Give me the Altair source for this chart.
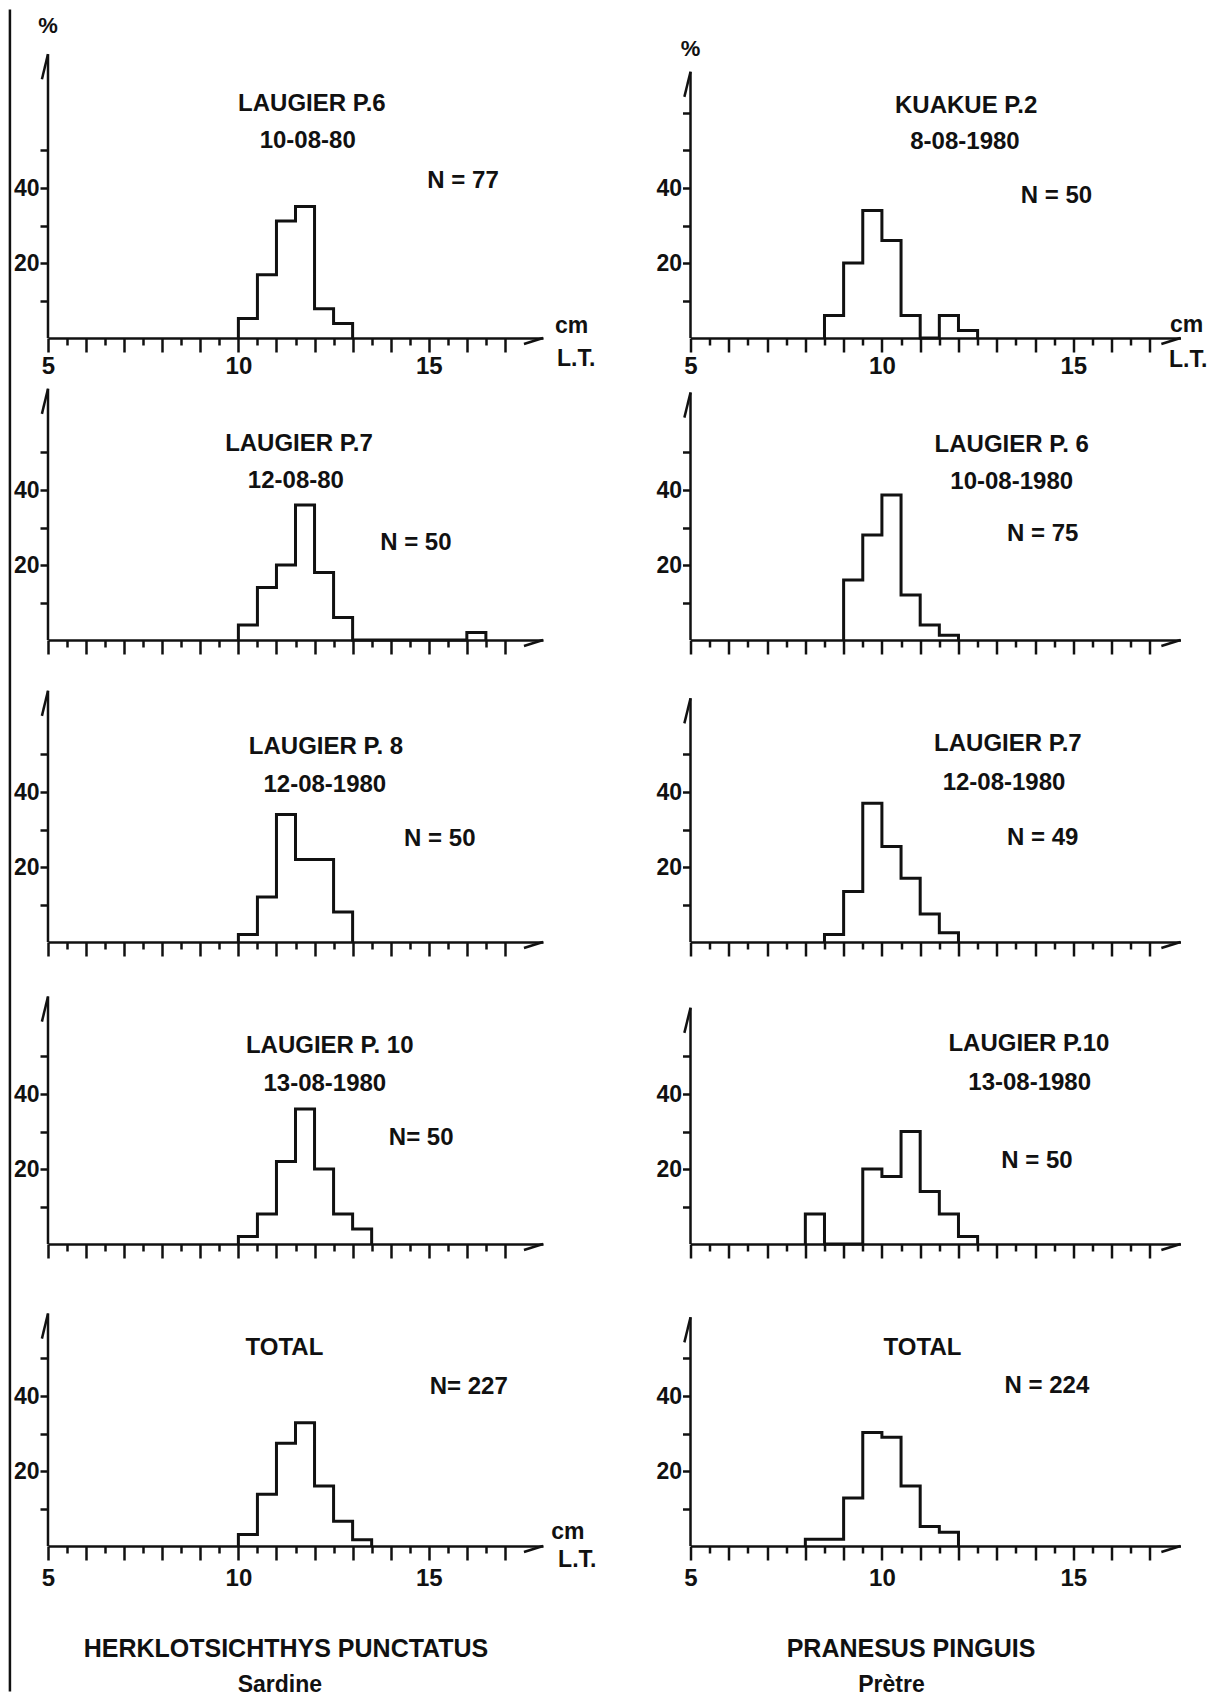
import altair as alt
import pandas as pd

FONT = "Liberation Sans"
INK = "#111111"

# ---------------- data ----------------
# lower edges of the 0.5 cm length classes, and % of fish in each class
L1_bins = [10.0, 10.5, 11.0, 11.5, 12.0, 12.5]
L1_pct = [5.2, 16.9, 31.2, 35.1, 7.8, 3.9]

R1_bins = [8.5, 9.0, 9.5, 10.0, 10.5, 11.0, 11.5, 12.0]
R1_pct = [6, 20, 34, 26, 6, 0, 6, 2]

L2_bins = [10.0, 10.5, 11.0, 11.5, 12.0, 12.5, 13.0, 13.5, 14.0, 14.5, 15.0, 15.5, 16.0]
L2_pct = [4, 14, 20, 36, 18, 6, 0, 0, 0, 0, 0, 0, 2]

R2_bins = [9.0, 9.5, 10.0, 10.5, 11.0, 11.5]
R2_pct = [16, 28, 38.7, 12, 4, 1.3]

L3_bins = [10.0, 10.5, 11.0, 11.5, 12.0, 12.5]
L3_pct = [2, 12, 34, 22, 22, 8]

R3_bins = [8.5, 9.0, 9.5, 10.0, 10.5, 11.0, 11.5]
R3_pct = [2, 13.5, 37, 25.5, 17, 7.5, 2.5]

L4_bins = [10.0, 10.5, 11.0, 11.5, 12.0, 12.5, 13.0]
L4_pct = [2, 8, 22, 36, 20, 8, 4]

R4_bins = [8.0, 8.5, 9.0, 9.5, 10.0, 10.5, 11.0, 11.5, 12.0]
R4_pct = [8, 0, 0, 20, 18, 30, 14, 8, 2]

L5_bins = [10.0, 10.5, 11.0, 11.5, 12.0, 12.5, 13.0]
L5_pct = [3.1, 13.8, 27.4, 32.9, 16, 6.6, 1.7]

R5_bins = [8.0, 8.5, 9.0, 9.5, 10.0, 10.5, 11.0, 11.5]
R5_pct = [1.8, 1.8, 12.8, 30.3, 29, 16, 5.2, 3.7]

CLASS_WIDTH = 0.5

# panel texts
L1_text = ["LAUGIER P.6", "10-08-80", "N = 77"]
R1_text = ["KUAKUE P.2", "8-08-1980", "N = 50"]
L2_text = ["LAUGIER P.7", "12-08-80", "N = 50"]
R2_text = ["LAUGIER P. 6", "10-08-1980", "N = 75"]
L3_text = ["LAUGIER P. 8", "12-08-1980", "N = 50"]
R3_text = ["LAUGIER P.7", "12-08-1980", "N = 49"]
L4_text = ["LAUGIER P. 10", "13-08-1980", "N= 50"]
R4_text = ["LAUGIER P.10", "13-08-1980", "N = 50"]
L5_text = ["TOTAL", "N= 227"]
R5_text = ["TOTAL", "N = 224"]

SPECIES_L = ["HERKLOTSICHTHYS PUNCTATUS", "Sardine"]
SPECIES_R = ["PRANESUS PINGUIS", "Prètre"]

# axis ticks / labels
XTICKS = [5.0, 5.5, 6.0, 6.5, 7.0, 7.5, 8.0, 8.5, 9.0, 9.5, 10.0, 10.5, 11.0,
          11.5, 12.0, 12.5, 13.0, 13.5, 14.0, 14.5, 15.0, 15.5, 16.0, 16.5, 17.0]
XLABELS = [5, 10, 15]
YTICKS = [10, 20, 30, 40, 50]
YTICKS_R1 = [10, 20, 30, 40, 50, 60]
YLABELS = [20, 40]

# ---------------- layout (positions in data units, sizes) ----------------
PANEL_H = 285
YMAX = 76
TS = 24   # title size
PANELS = [
    dict(bins=L1_bins, pct=L1_pct, col=0, row=0, top=75.7, yticks=YTICKS, frame=(-4.53, 87.6),
         texts=[(L1_text[0], 11.93, 62.4, TS), (L1_text[1], 11.82, 52.5, TS), (L1_text[2], 15.9, 41.9, TS),
                ("%", 5.0, 83.2, 22), ("cm", 18.75, 3.2, 23), ("L.T.", 18.87, -5.6, 23)]),
    dict(bins=R1_bins, pct=R1_pct, col=1, row=0, top=71, yticks=YTICKS_R1,
         texts=[(R1_text[0], 12.2, 61.9, TS), (R1_text[1], 12.17, 52.3, TS), (R1_text[2], 14.56, 37.9, TS),
                ("%", 5.0, 77.0, 22), ("cm", 17.96, 3.5, 23), ("L.T.", 18.0, -5.9, 23)]),
    dict(bins=L2_bins, pct=L2_pct, col=0, row=1, top=67, yticks=YTICKS, frame=(-4.53, 76),
         texts=[(L2_text[0], 11.59, 52.3, TS), (L2_text[1], 11.51, 42.4, TS), (L2_text[2], 14.66, 25.9, TS)]),
    dict(bins=R2_bins, pct=R2_pct, col=1, row=1, top=66, yticks=YTICKS,
         texts=[(R2_text[0], 13.39, 52.0, TS), (R2_text[1], 13.39, 42.1, TS), (R2_text[2], 14.2, 28.3, TS)]),
    dict(bins=L3_bins, pct=L3_pct, col=0, row=2, top=67, yticks=YTICKS, frame=(-4.53, 76),
         texts=[(L3_text[0], 12.3, 52.0, TS), (L3_text[1], 12.27, 41.9, TS), (L3_text[2], 15.29, 27.5, TS)]),
    dict(bins=R3_bins, pct=R3_pct, col=1, row=2, top=65, yticks=YTICKS,
         texts=[(R3_text[0], 13.29, 52.8, TS), (R3_text[1], 13.19, 42.4, TS), (R3_text[2], 14.2, 27.7, TS)]),
    dict(bins=L4_bins, pct=L4_pct, col=0, row=3, top=66, yticks=YTICKS, frame=(-4.53, 76),
         texts=[(L4_text[0], 12.4, 52.8, TS), (L4_text[1], 12.27, 42.7, TS), (L4_text[2], 14.8, 28.3, TS)]),
    dict(bins=R4_bins, pct=R4_pct, col=1, row=3, top=63, yticks=YTICKS,
         texts=[(R4_text[0], 13.84, 53.3, TS), (R4_text[1], 13.86, 42.9, TS), (R4_text[2], 14.05, 22.1, TS)]),
    dict(bins=L5_bins, pct=L5_pct, col=0, row=4, top=62, yticks=YTICKS, frame=(-38.8, 76),
         texts=[(L5_text[0], 11.21, 52.8, TS), (L5_text[1], 16.05, 42.4, TS),
                ("cm", 18.65, 3.7, 23), ("L.T.", 18.9, -3.7, 23),
                (SPECIES_L[0], 11.25, -27.4, 25), (SPECIES_L[1], 11.09, -37.0, 23)]),
    dict(bins=R5_bins, pct=R5_pct, col=1, row=4, top=61, yticks=YTICKS,
         texts=[(R5_text[0], 11.06, 52.8, TS), (R5_text[1], 14.31, 42.7, TS),
                (SPECIES_R[0], 10.76, -27.4, 25), (SPECIES_R[1], 10.25, -37.0, 23)]),
]
FRAME_X = 4.0   # the scanned page's left frame line, in cm of the left-hand axes
XLABEL_PAD = {0: 2, 4: 6}


def make_panel(p):
    col, row = p["col"], p["row"]
    xmax = 18.0 if col == 0 else 17.8
    width = 495 if col == 0 else 490
    show_xlabels = row in XLABEL_PAD

    xaxis = alt.Axis(
        values=XTICKS, title=None, grid=False, format="~g",
        domain=True, domainColor=INK, domainWidth=2.5,
        ticks=True, tickColor=INK, tickWidth=2.5,
        tickSize={"condition": {"test": "datum.value % 1 == 0", "value": 14}, "value": 7},
        labels=show_xlabels,
        labelExpr="indexof(%s, datum.value) >= 0 ? datum.label : ''" % str(XLABELS),
        labelFont=FONT, labelFontSize=24, labelFontWeight="bold", labelColor=INK,
        labelPadding=XLABEL_PAD.get(row, 4), labelFlush=False, labelOverlap=False,
    )
    yaxis = alt.Axis(
        values=p["yticks"], title=None, grid=False, domain=False,
        ticks=True, tickColor=INK, tickWidth=2.5, tickSize=8,
        labelExpr="indexof(%s, datum.value) >= 0 ? datum.label : ''" % str(YLABELS),
        labelFont=FONT, labelFontSize=23, labelFontWeight="bold", labelColor=INK,
        labelPadding=1, labelFlush=False, labelOverlap=False,
    )
    xs = alt.Scale(domain=[5, xmax], nice=False, zero=False)
    ys = alt.Scale(domain=[0, YMAX], nice=False, zero=False)
    X = alt.X("x:Q", scale=xs, axis=xaxis)
    Y = alt.Y("y:Q", scale=ys, axis=yaxis)

    # step outline of the histogram
    xs_pts = [p["bins"][0]] + list(p["bins"]) + [p["bins"][-1] + CLASS_WIDTH]
    ys_pts = [0] + list(p["pct"]) + [0]
    hdf = pd.DataFrame({"x": xs_pts, "y": ys_pts, "i": list(range(len(xs_pts)))})
    hist = alt.Chart(hdf).mark_line(
        interpolate="step-after", color=INK, strokeWidth=3, strokeJoin="miter"
    ).encode(x=X, y=Y, order="i:Q")

    # vertical axis line with its little barb, and the barb of the x arrow
    top = p["top"]
    ax_x, ax_x2 = [5.0, 5.0, xmax - 0.5], [5.0, 4.84, xmax]
    ax_y, ax_y2 = [0.0, top, -1.6], [top, top - 6.7, 0.0]
    if "frame" in p:
        ax_x.append(FRAME_X)
        ax_x2.append(FRAME_X)
        ax_y.append(p["frame"][0])
        ax_y2.append(p["frame"][1])
    adf = pd.DataFrame({"x": ax_x, "x2": ax_x2, "y": ax_y, "y2": ax_y2})
    rules = alt.Chart(adf).mark_rule(color=INK, strokeWidth=2.5).encode(
        x=X, x2="x2:Q", y=Y, y2="y2:Q"
    )

    tdf = pd.DataFrame(p["texts"], columns=["text", "x", "y", "size"])
    text = alt.Chart(tdf).mark_text(
        font=FONT, fontWeight="bold", color=INK, baseline="middle", align="center"
    ).encode(x=X, y=Y, text="text:N", size=alt.Size("size:Q", scale=None, legend=None))

    return alt.layer(hist, rules, text).properties(width=width, height=PANEL_H)


panels = [make_panel(p) for p in PANELS]

chart = alt.concat(
    *panels, columns=2, spacing={"row": 17, "column": 147.5}, bounds="flush"
).properties(
    padding={"left": 0, "top": 0, "right": 0, "bottom": 0},
    background="white",
).configure_view(stroke="transparent", strokeWidth=0)

chart.save("out.html", embed_options={"renderer": "svg", "actions": False})
